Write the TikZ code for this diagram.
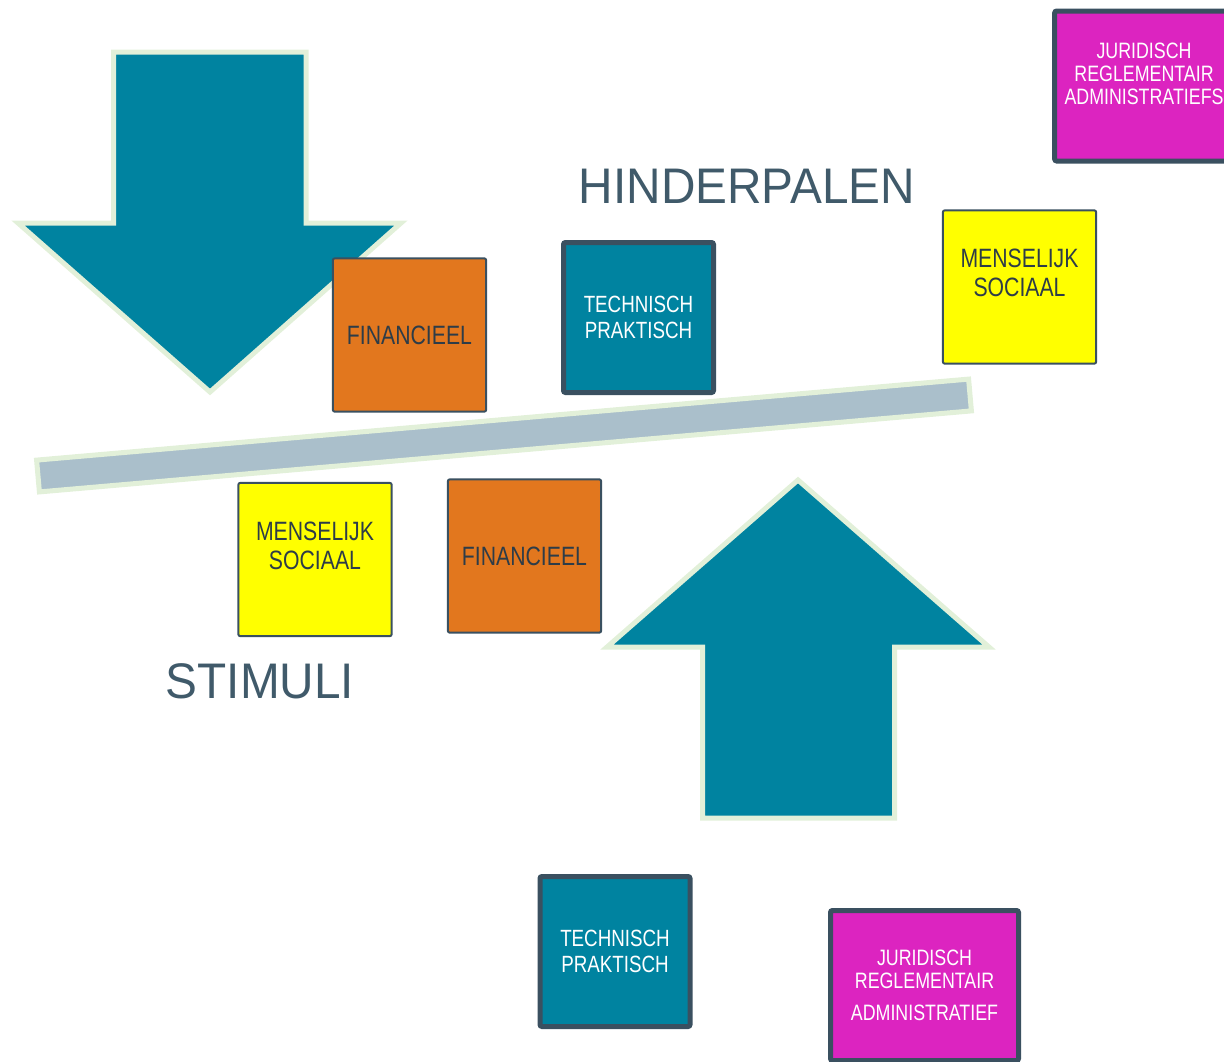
\documentclass[tikz,border=0pt]{standalone}
\usepackage{fontspec}
\setmainfont{Liberation Sans}
\newfontfamily\boxfont[FakeStretch=0.8]{Liberation Sans}
\newfontfamily\titlefont[FakeStretch=0.955]{Liberation Sans}

\definecolor{tealfill}{RGB}{0,131,160}
\definecolor{paleline}{RGB}{226,240,217}
\definecolor{bargray}{RGB}{170,191,203}
\definecolor{orangefill}{RGB}{226,119,30}
\definecolor{yellowfill}{RGB}{255,255,0}
\definecolor{magentafill}{RGB}{220,36,192}
\definecolor{slateline}{RGB}{58,80,96}
\definecolor{titlegray}{RGB}{64,90,106}
\definecolor{darktext}{RGB}{45,60,72}

\tikzset{every picture/.style={line width=0.75pt}}
\tikzset{
  bigarrow/.style={draw=paleline, fill=tealfill, line width=3.75pt, line join=miter},
  balkbar/.style={draw=paleline, fill=bargray, line width=3.75pt},
  thinbox/.style={draw=slateline, line width=1.5pt, rounded corners=1.5pt, inner sep=0pt,
    minimum width=115pt, minimum height=115pt, align=center, text=darktext,
    font=\boxfont\fontsize{19.9}{21.75}\selectfont},
  thickbox/.style={draw=slateline, line width=3.75pt, rounded corners=1.5pt, inner sep=0pt,
    minimum width=112.5pt, minimum height=112.5pt, align=center, text=white,
    font=\boxfont\fontsize{17.6}{20}\selectfont},
  jurfont/.style={font=\boxfont\fontsize{16.7}{17.25}\selectfont},
  titletext/.style={text=titlegray, inner sep=0pt, font=\titlefont\fontsize{37.5}{40}\selectfont},
}

\begin{document}
\begin{tikzpicture}[x=0.75pt,y=0.75pt,yscale=-1,xscale=1]
\useasboundingbox (0,0) rectangle (1224,1061);

%Shape: Down Arrow
\draw [bigarrow] (113.5,52) -- (306,52) -- (306,223) -- (401,223) -- (210,392) -- (18,223) -- (113.5,223) -- cycle ;
%Shape: Up Arrow
\draw [bigarrow] (798,480) -- (989,647) -- (894.5,647) -- (894.5,818) -- (702.5,818) -- (702.5,647) -- (607,647) -- cycle ;
%Shape: Balance bar
\draw [balkbar] (36.6,460.1) -- (968.6,379.1) -- (971.4,410.9) -- (39.4,491.9) -- cycle ;

% Text Node
\node [titletext] (hinder) at (747,186) {HINDERPALEN};
% Text Node
\node [titletext] (stimuli) at (260,681) {STIMULI};

% Boxes above the bar
\node [thinbox, fill=orangefill] (fintop) at (409.5,335) {FINANCIEEL};
\node [thickbox, fill=tealfill] (techtop) at (638.5,317.5) {TECHNISCH\\PRAKTISCH};
\node [thinbox, fill=yellowfill, label={[text=darktext, align=center, font=\boxfont\fontsize{19.9}{21.75}\selectfont, yshift=10.5pt]center:{MENSELIJK\\SOCIAAL}}] (menstop) at (1019.5,287) {};
\node [thickbox, fill=magentafill, minimum width=134pt, label={[text=white, align=center, jurfont, yshift=9pt]center:{JURIDISCH\\REGLEMENTAIR\\ADMINISTRATIEFS}}] (jurtop) at (1144,86) {};

% Boxes below the bar
\node [thinbox, fill=yellowfill, label={[text=darktext, align=center, font=\boxfont\fontsize{19.9}{21.75}\selectfont, yshift=10.5pt]center:{MENSELIJK\\SOCIAAL}}] (mensbot) at (315,559.5) {};
\node [thinbox, fill=orangefill] (finbot) at (524.5,556) {FINANCIEEL};
\node [thickbox, fill=tealfill] (techbot) at (615,951.5) {TECHNISCH\\PRAKTISCH};
\node [thickbox, fill=magentafill, minimum width=141pt, jurfont] (jurbot) at (924.5,985.5) {JURIDISCH\\REGLEMENTAIR\\[6.75pt]ADMINISTRATIEF};

\end{tikzpicture}
\end{document}
